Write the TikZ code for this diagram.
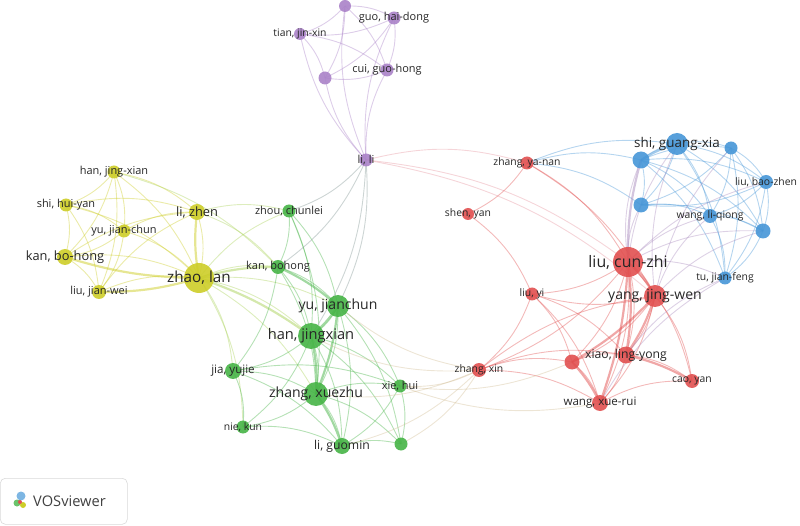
\documentclass[tikz,border=0pt]{standalone}
\usepackage{fontspec}
\setmainfont{Open Sans}
\begin{document}
\begin{tikzpicture}[x=1pt,y=-1pt,
 lbl/.style={font=\fontsize{#1}{#1}\selectfont, text=black!85, inner sep=0pt, scale=1.22},
 e/.style={draw=#1, line width=0.9pt, opacity=0.4, bend left=15},
 ee/.style={draw=#1, line width=2.2pt, opacity=0.5, bend left=8},
 dot/.style={circle, fill=#1, inner sep=0pt, opacity=0.9}]
\definecolor{Y}{RGB}{205,205,40}
\definecolor{G}{RGB}{70,180,70}
\definecolor{P}{RGB}{170,130,200}
\definecolor{R}{RGB}{225,80,80}
\definecolor{B}{RGB}{70,150,215}
\definecolor{YG}{RGB}{170,210,90}
\definecolor{RP}{RGB}{230,150,160}
\definecolor{GR}{RGB}{210,190,150}
\definecolor{RB}{RGB}{170,140,190}
\useasboundingbox (0,0) rectangle (800,526);
% coordinates
\foreach \n/\x/\y in {
 hjx/114/172, shy/66/205, yjc/124/231, kbh/65/257, ljw/99/292, lz/197/212, zl/199/278,
 zc/289/211, kb/278/267, yj/338/306, hj/311/336, jy/233/371, zx/316/394, xh/400/386, nk/243/427, lg/342/446, g10/401/444,
 p1/345/6, ghd/394/18, tjx/300/34, cgh/387/70, p5/325/78, ll/366/160,
 zyn/527/163, sy/468/214, lcz/628/262, yjw/655/296, ly/532/294, zx2/479/370, r7/572/362, xly/626/355, wxr/600/403, cy/692/381,
 b1/641/160, sgx/677/144, b3/731/148, lbz/766/182, b5/641/205, wlq/710/216, b7/763/231, tjf/725/278}
 \coordinate (\n) at (\x,\y);
% edges
\foreach \a/\b in {hjx/shy,hjx/yjc,hjx/kbh,hjx/ljw,hjx/lz,hjx/zl,shy/yjc,shy/kbh,shy/ljw,shy/zl,shy/lz,yjc/kbh,yjc/ljw,yjc/zl,yjc/lz,kbh/ljw,kbh/zl,kbh/lz,ljw/zl,ljw/lz,lz/zl}
 \draw[e=Y] (\a) to (\b);
\foreach \a/\b in {zl/kbh,zl/ljw,zl/lz}
 \draw[ee=Y] (\a) to (\b);
\foreach \a/\b in {zl/kb,zl/yj,zl/hj,zl/zc,zl/jy,zl/zx,lz/zc,lz/kb,hjx/kb,zl/nk}
 \draw[e=YG] (\a) to (\b);
\draw[ee=YG] (zl) to (kb); \draw[ee=YG] (zl) to (hj);
\foreach \a/\b in {zc/kb,zc/yj,zc/hj,zc/zx,kb/yj,kb/hj,kb/zx,kb/jy,yj/hj,yj/zx,yj/xh,yj/lg,yj/g10,hj/zx,hj/jy,hj/xh,hj/lg,hj/nk,hj/g10,jy/zx,jy/nk,jy/lg,zx/xh,zx/lg,zx/nk,zx/g10,xh/lg,xh/g10,lg/g10,nk/lg,jy/xh}
 \draw[e=G] (\a) to (\b);
\foreach \a/\b in {yj/hj,hj/zx,kb/yj,yj/zx,zx/lg}
 \draw[ee=G] (\a) to (\b);
\foreach \a/\b in {p1/ghd,p1/tjx,p1/cgh,p1/p5,ghd/tjx,ghd/cgh,ghd/p5,tjx/cgh,tjx/p5,cgh/p5,ll/p1,ll/ghd,ll/tjx,ll/cgh,ll/p5}
 \draw[e=P] (\a) to (\b);
\foreach \a/\b in {ll/zc,ll/kb,ll/yj,ll/hj}
 \draw[e=P!60!G] (\a) to (\b);
\foreach \a/\b in {ll/zyn,ll/lcz,ll/yjw}
 \draw[e=RP] (\a) to (\b);
\foreach \a/\b in {zyn/sy,zyn/lcz,zyn/yjw,sy/ly,lcz/yjw,lcz/ly,lcz/xly,lcz/wxr,lcz/r7,lcz/cy,lcz/zx2,yjw/xly,yjw/wxr,yjw/r7,yjw/cy,yjw/ly,ly/zx2,ly/r7,ly/wxr,ly/xly,zx2/r7,zx2/wxr,zx2/xly,r7/xly,r7/wxr,xly/wxr,xly/cy,wxr/cy,zx2/yjw}
 \draw[e=R] (\a) to (\b);
\foreach \a/\b in {lcz/yjw,lcz/xly,yjw/xly,r7/wxr,xly/cy,yjw/r7,lcz/wxr}
 \draw[ee=R] (\a) to (\b);
\foreach \a/\b in {zx2/xh,zx2/g10,zx2/hj,zx2/yj,zx2/zx,wxr/xh,r7/xh,zx2/lg}
 \draw[e=GR] (\a) to (\b);
\foreach \a/\b in {b1/sgx,b1/b3,b1/lbz,b1/b5,b1/wlq,b1/b7,b1/tjf,sgx/b3,sgx/lbz,sgx/b5,sgx/wlq,sgx/b7,sgx/tjf,b3/lbz,b3/b5,b3/wlq,b3/b7,b3/tjf,lbz/b5,lbz/wlq,lbz/b7,b5/wlq,b5/b7,wlq/b7,wlq/tjf,b7/tjf,lbz/tjf,zyn/sgx,zyn/b1,zyn/b5}
 \draw[e=B] (\a) to (\b);
\draw[ee=B] (b1) to (sgx);
\foreach \a/\b in {lcz/b1,lcz/sgx,lcz/b5,lcz/wlq,lcz/b7,lcz/tjf,yjw/sgx,yjw/wlq,yjw/b7,yjw/b3,xly/tjf,wxr/tjf,lcz/lbz}
 \draw[e=RB] (\a) to (\b);
\draw[ee=RB] (lcz) to (b1);
% nodes
\foreach \n/\r/\c in {hjx/13/Y,shy/13/Y,yjc/13/Y,kbh/16/Y,ljw/14/Y,lz/16/Y,zl/30/Y,
 zc/13/G,kb/14/G,yj/22/G,hj/26/G,jy/16/G,zx/24/G,xh/13/G,nk/13/G,lg/16/G,g10/13/G,
 p1/12/P,ghd/13/P,tjx/12/P,cgh/13/P,p5/13/P,ll/13/P,
 zyn/13/R,sy/12/R,lcz/30/R,yjw/22/R,ly/13/R,zx2/14/R,r7/15/R,xly/17/R,wxr/16/R,cy/14/R,
 b1/17/B,sgx/22/B,b3/13/B,lbz/14/B,b5/15/B,wlq/14/B,b7/15/B,tjf/13/B}
 \node[dot=\c, minimum size=\r pt] (N\n) at (\n) {};
% labels
\foreach \n/\t/\s in {hjx/{han, jing-xian}/9, shy/{shi, hui-yan}/9, yjc/{yu, jian-chun}/9, kbh/{kan, bo-hong}/10.5, ljw/{liu, jian-wei}/9, lz/{li, zhen}/10.5, zl/{zhao, lan}/12.5,
 zc/{zhou, chunlei}/9, kb/{kan, bohong}/9, yj/{yu, jianchun}/11.5, hj/{han, jingxian}/12, jy/{jia, yujie}/9.5, zx/{zhang, xuezhu}/11.5, xh/{xie, hui}/9, nk/{nie, kun}/8.5, lg/{li, guomin}/10,
 ghd/{guo, hai-dong}/9, tjx/{tian, jin-xin}/8.5, cgh/{cui, guo-hong}/9, ll/{li, li}/9,
 zyn/{zhang, ya-nan}/8.5, sy/{shen, yan}/8.5, lcz/{liu, cun-zhi}/13, yjw/{yang, jing-wen}/11.5, ly/{liu, yi}/8.5, zx2/{zhang, xin}/8.5, xly/{xiao, ling-yong}/10, wxr/{wang, xue-rui}/9.5, cy/{cao, yan}/8.5,
 sgx/{shi, guang-xia}/11, lbz/{liu, bao-zhen}/8.5, wlq/{wang, li-qiong}/8.5, tjf/{tu, jian-feng}/8.5}
 \node[lbl=\s] (L\n) at (\n) {\t};
% logo
\node[draw=black!15, rounded corners=5pt, line width=0.6pt, minimum width=127pt, minimum height=46pt, anchor=north west] (logo) at (0,478) {};
\node[lbl=12, anchor=west, text=black!75] (logotxt) at (33,501) {VOSviewer};
\fill[B!70] (21,496) circle (4.5pt);
\fill[G!80] (17,503) circle (3.5pt);
\fill[Y] (23,505) circle (3pt);
\fill[R] (20,502) circle (2pt);
\end{tikzpicture}
\end{document}
